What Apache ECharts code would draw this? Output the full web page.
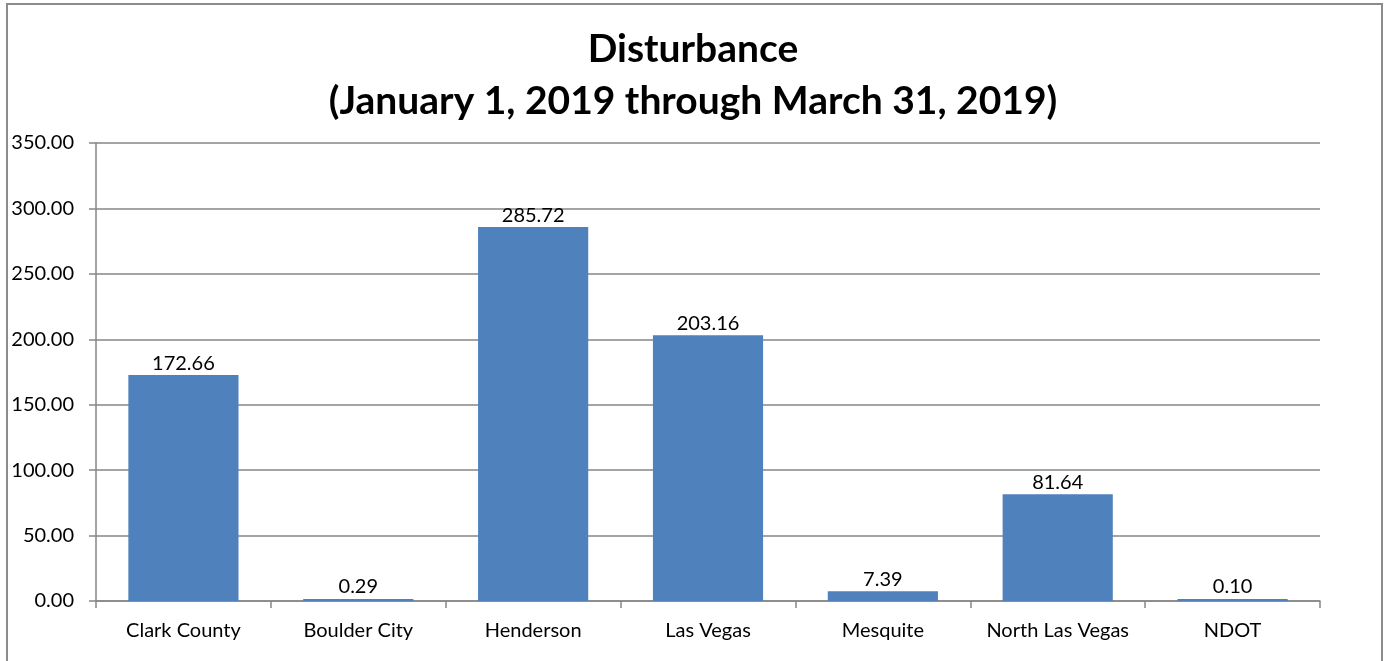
<!DOCTYPE html>
<html>
<head>
<meta charset="utf-8">
<script src="https://cdn.jsdelivr.net/npm/echarts@6/dist/echarts.min.js"></script>
<style>
  html, body { margin: 0; padding: 0; background: #fff; overflow: hidden; }
  #frame {
    position: absolute; left: 6px; top: 3px; width: 1377px; height: 700px;
    border: 2px solid #8c8c8c; box-sizing: border-box;
  }
  #chart { position: absolute; left: 0; top: 0; width: 1386px; height: 661px; }
</style>
</head>
<body>
<div id="frame"></div>
<div id="chart"></div>
<script>
const categories = ["Clark County", "Boulder City", "Henderson", "Las Vegas", "Mesquite", "North Las Vegas", "NDOT"];
const disturbance = [172.66, 0.29, 285.72, 203.16, 7.39, 81.64, 0.10];
const titleLines = ["Disturbance", "(January 1, 2019 through March 31, 2019)"];

const font = "Lato, 'Open Sans', sans-serif";
const mychart = echarts.init(document.getElementById("chart"));

mychart.setOption({
  animation: false,
  title: {
    left: "center",
    top: 18,
    text: titleLines.join("\n"),
    textStyle: {
      fontFamily: font,
      fontSize: 39,
      fontWeight: "bold",
      color: "#000",
      lineHeight: 52,
    },
  },
  grid: {
    left: 96,
    right: 66,
    top: 143,
    bottom: 60,
  },
  xAxis: {
    type: "category",
    data: categories,
    axisLine: { lineStyle: { color: "#868686", width: 1.5 } },
    axisTick: { show: true, length: 7, lineStyle: { color: "#868686", width: 1.5 } },
    axisLabel: {
      interval: 0,
      margin: 20,
      fontFamily: font,
      fontSize: 20,
      color: "#000",
    },
  },
  yAxis: {
    type: "value",
    min: 0,
    max: 350,
    interval: 50,
    axisLine: { show: true, lineStyle: { color: "#868686", width: 1.5 } },
    axisTick: { show: true, length: 7, lineStyle: { color: "#868686", width: 1.5 } },
    splitLine: { lineStyle: { color: "#868686", width: 1.5 } },
    axisLabel: {
      margin: 22,
      fontFamily: font,
      fontSize: 20,
      color: "#000",
      formatter: (v) => v.toFixed(2),
    },
  },
  series: [
    {
      name: "Disturbance",
      type: "bar",
      data: disturbance,
      barCategoryGap: "37%",
      barMinHeight: 2,
      itemStyle: { color: "#4F81BD" },
      label: {
        show: true,
        position: "top",
        distance: 2,
        fontFamily: font,
        fontSize: 20,
        color: "#000",
        formatter: (p) => p.value.toFixed(2),
      },
    },
  ],
});
</script>
</body>
</html>
